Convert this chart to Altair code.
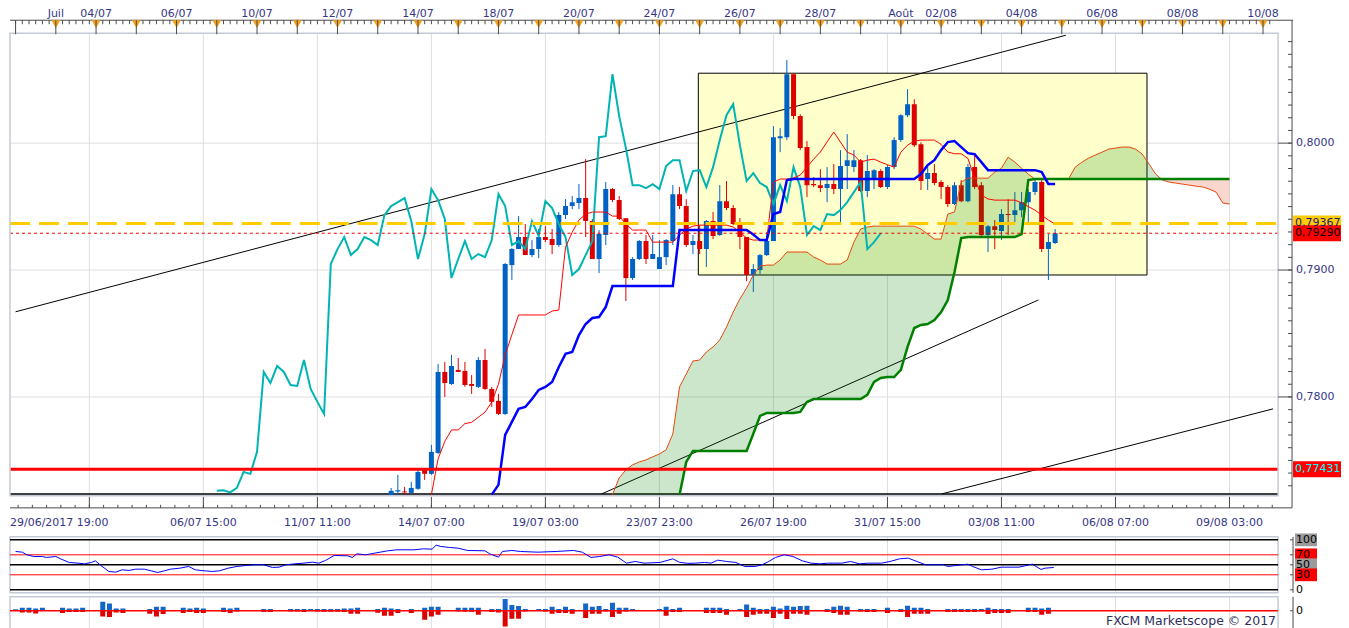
import altair as alt
import pandas as pd
import numpy as np

# ---------------- data ----------------
candle_start = 62
opens = [0.77228, 0.77255, 0.77255, 0.77244, 0.77276, 0.77425, 0.77394, 0.77559, 0.78197, 0.78102,
         0.78213, 0.78205, 0.78102, 0.78079, 0.78291, 0.78063, 0.77969, 0.77866, 0.79039, 0.79165,
         0.79260, 0.79118, 0.79165, 0.79260, 0.79244, 0.79197, 0.79433, 0.79504, 0.79528, 0.79567,
         0.79386, 0.79087, 0.79276, 0.79638, 0.79551, 0.79409, 0.78937, 0.79087, 0.79228, 0.79087,
         0.79008, 0.79102, 0.79228, 0.79598, 0.79504, 0.79197, 0.79228, 0.79165, 0.79386, 0.79276,
         0.79543, 0.79488, 0.79362, 0.79260, 0.78961, 0.79000, 0.79118, 0.79228, 0.80039, 0.80047,
         0.80543, 0.80213, 0.79969, 0.79677, 0.79669, 0.79646, 0.79677, 0.79638, 0.79819, 0.79811,
         0.79866, 0.79622, 0.79717, 0.79780, 0.79654, 0.79811, 0.80024, 0.80220, 0.80307, 0.79992,
         0.79717, 0.79764, 0.79693, 0.79654, 0.79520, 0.79669, 0.79543, 0.79811, 0.79669, 0.79276,
         0.79346, 0.79307, 0.79441, 0.79433, 0.79472, 0.79535, 0.79614, 0.79693, 0.79165, 0.79213]
highs = [0.77283, 0.77386, 0.77291, 0.77331, 0.77441, 0.77433, 0.77622, 0.78260, 0.78276, 0.78331,
         0.78307, 0.78276, 0.78173, 0.78315, 0.78378, 0.78079, 0.78024, 0.79055, 0.79173, 0.79425,
         0.79362, 0.79236, 0.79323, 0.79346, 0.79323, 0.79457, 0.79559, 0.79583, 0.79677, 0.79874,
         0.79402, 0.79315, 0.79693, 0.79646, 0.79583, 0.79409, 0.79102, 0.79236, 0.79276, 0.79276,
         0.79236, 0.79244, 0.79669, 0.79654, 0.79559, 0.79276, 0.79354, 0.79394, 0.79457, 0.79669,
         0.79701, 0.79512, 0.79409, 0.79260, 0.79047, 0.79126, 0.79299, 0.80134, 0.80118, 0.80654,
         0.80551, 0.80228, 0.80016, 0.79732, 0.79795, 0.79811, 0.79835, 0.79945, 0.80071, 0.79945,
         0.79874, 0.79906, 0.79795, 0.79795, 0.79827, 0.80047, 0.80228, 0.80425, 0.80346, 0.80008,
         0.79835, 0.79835, 0.79709, 0.79669, 0.79693, 0.79709, 0.79835, 0.79906, 0.79693, 0.79354,
         0.79394, 0.79480, 0.79559, 0.79614, 0.79614, 0.79638, 0.79717, 0.79709, 0.79283, 0.79323]
lows = [0.77228, 0.77228, 0.77228, 0.77236, 0.77268, 0.77346, 0.77386, 0.77551, 0.78000, 0.78094,
        0.78197, 0.78079, 0.78024, 0.78071, 0.78055, 0.77921, 0.77858, 0.77858, 0.78921, 0.79165,
        0.79118, 0.79102, 0.79094, 0.79220, 0.79126, 0.79181, 0.79402, 0.79480, 0.79480, 0.79260,
        0.79087, 0.78976, 0.79197, 0.79535, 0.79394, 0.78756, 0.78921, 0.79079, 0.79047, 0.79087,
        0.79008, 0.79039, 0.79197, 0.79480, 0.79181, 0.79126, 0.79126, 0.79024, 0.79244, 0.79268,
        0.79472, 0.79354, 0.79165, 0.78913, 0.78827, 0.78969, 0.79110, 0.79228, 0.79929, 0.80024,
        0.80189, 0.79945, 0.79575, 0.79654, 0.79614, 0.79535, 0.79598, 0.79378, 0.79638, 0.79772,
        0.79614, 0.79575, 0.79638, 0.79646, 0.79638, 0.79795, 0.80008, 0.80205, 0.79969, 0.79630,
        0.79630, 0.79669, 0.79559, 0.79496, 0.79512, 0.79535, 0.79535, 0.79638, 0.79268, 0.79142,
        0.79165, 0.79236, 0.79276, 0.79378, 0.79417, 0.79354, 0.79591, 0.79142, 0.78921, 0.79205]
closes = [0.77260, 0.77265, 0.77248, 0.77283, 0.77409, 0.77394, 0.77567, 0.78197, 0.78110, 0.78244,
          0.78197, 0.78094, 0.78087, 0.78291, 0.78063, 0.77961, 0.77866, 0.79047, 0.79165, 0.79260,
          0.79118, 0.79165, 0.79260, 0.79236, 0.79197, 0.79433, 0.79504, 0.79535, 0.79567, 0.79386,
          0.79087, 0.79283, 0.79638, 0.79551, 0.79402, 0.78937, 0.79087, 0.79228, 0.79087, 0.79126,
          0.79102, 0.79236, 0.79598, 0.79504, 0.79197, 0.79228, 0.79165, 0.79386, 0.79268, 0.79543,
          0.79488, 0.79362, 0.79260, 0.78961, 0.79008, 0.79118, 0.79228, 0.80047, 0.80055, 0.80543,
          0.80213, 0.79961, 0.79669, 0.79669, 0.79646, 0.79677, 0.79638, 0.79819, 0.79866, 0.79866,
          0.79622, 0.79780, 0.79787, 0.79654, 0.79811, 0.80024, 0.80220, 0.80307, 0.79984, 0.79701,
          0.79764, 0.79685, 0.79654, 0.79520, 0.79669, 0.79543, 0.79811, 0.79654, 0.79276, 0.79346,
          0.79315, 0.79441, 0.79433, 0.79472, 0.79535, 0.79614, 0.79693, 0.79165, 0.79220, 0.79290]

tenkan_start = 68
tenkan = [0.7723, 0.77512, 0.7765, 0.7774, 0.7774, 0.7779, 0.7780, 0.7784, 0.7788, 0.7796,
          0.7810, 0.7833, 0.7849, 0.78646, 0.78646, 0.78646, 0.78646, 0.78646, 0.78677, 0.78685,
          0.7918, 0.79299, 0.79394, 0.79441, 0.79457, 0.79457, 0.79457, 0.79425, 0.79425, 0.79362,
          0.79315, 0.79315, 0.79315, 0.7922, 0.7922, 0.7922, 0.7922, 0.79276, 0.79323, 0.79346,
          0.79354, 0.79354, 0.79354, 0.79354, 0.79354, 0.79339, 0.79299, 0.79252, 0.79236, 0.79236,
          0.79236, 0.79693, 0.79717, 0.79717, 0.79725, 0.79748, 0.79811, 0.79874, 0.7993, 0.8001,
          0.80087, 0.80008, 0.79929, 0.79906, 0.7985, 0.79866, 0.79874, 0.7985, 0.7983, 0.79811,
          0.79929, 0.79984, 0.80016, 0.80024, 0.80024, 0.80024, 0.7999, 0.7993, 0.79916, 0.79916,
          0.7988, 0.7972, 0.79591, 0.7956, 0.79551, 0.79551, 0.79551, 0.79551, 0.7953, 0.795,
          0.79472, 0.79433, 0.79394, 0.79362]

kijun_start = 77
kijun = [0.7723, 0.77307, 0.77701, 0.77803, 0.77906, 0.77921, 0.77984, 0.78055, 0.78079, 0.78118,
         0.78236, 0.78339, 0.78354, 0.78488, 0.78575, 0.78622, 0.7863, 0.78709, 0.78874, 0.78874,
         0.78874, 0.78874, 0.78874, 0.78874, 0.78874, 0.78874, 0.78874, 0.78874, 0.79315, 0.79315,
         0.79315, 0.79315, 0.79315, 0.79315, 0.79315, 0.79315, 0.79315, 0.79315, 0.79315, 0.7928,
         0.79236, 0.79236, 0.79441, 0.79457, 0.79709, 0.79717, 0.79717, 0.79717, 0.79717, 0.79717,
         0.79717, 0.79717, 0.79717, 0.79717, 0.79717, 0.79717, 0.79717, 0.79717, 0.79717, 0.79717,
         0.79717, 0.79717, 0.79717, 0.79717, 0.79756, 0.79827, 0.79866, 0.79945, 0.80008, 0.80016,
         0.79969, 0.79921, 0.79913, 0.7985, 0.79787, 0.79787, 0.79787, 0.79787, 0.79787, 0.79787,
         0.79787, 0.79787, 0.79772, 0.79677, 0.79677]

senkou_a_start = 95
senkou_a = [0.7723, 0.77362, 0.77425, 0.77465, 0.77488, 0.77504, 0.77528, 0.77551, 0.77583, 0.77709,
            0.78079, 0.78181, 0.78283, 0.78291, 0.78354, 0.78394, 0.78449, 0.78551, 0.78669, 0.78772,
            0.78858, 0.78961, 0.79031, 0.79039, 0.79039, 0.79079, 0.79142, 0.79142, 0.79142, 0.79142,
            0.79102, 0.79079, 0.79047, 0.79047, 0.79047, 0.79079, 0.7922, 0.79323, 0.79339, 0.79346,
            0.79346, 0.79346, 0.79346, 0.79346, 0.79346, 0.79346, 0.79323, 0.79283, 0.79244, 0.79244,
            0.79441, 0.79457, 0.79693, 0.79724, 0.79724, 0.79724, 0.79724, 0.79772, 0.79803, 0.7989,
            0.7985, 0.79803, 0.79756, 0.79717, 0.79717, 0.79717, 0.79717, 0.79717, 0.79717, 0.79811,
            0.7985, 0.79882, 0.79906, 0.79929, 0.79953, 0.79961, 0.79969, 0.79969, 0.79953, 0.79913,
            0.79835, 0.79756, 0.79709, 0.79693, 0.79685, 0.79677, 0.79669, 0.79661, 0.79654, 0.79638,
            0.79614, 0.79528, 0.7952]

senkou_b_start = 105
senkou_b = [0.7723, 0.77488, 0.77575, 0.77575, 0.77575, 0.77575, 0.77575, 0.77575, 0.77575, 0.77575,
            0.77575, 0.7771, 0.7785, 0.77874, 0.77874, 0.77874, 0.77874, 0.77874, 0.77882, 0.77961,
            0.77984, 0.77984, 0.77984, 0.77984, 0.77984, 0.77984, 0.77984, 0.77984, 0.78016, 0.78118,
            0.7815, 0.78157, 0.78157, 0.78213, 0.78394, 0.78543, 0.78567, 0.78575, 0.78606, 0.78669,
            0.78764, 0.78984, 0.79252, 0.7926, 0.7926, 0.7926, 0.7926, 0.7926, 0.7926, 0.7926,
            0.7926, 0.79283, 0.79709, 0.79717, 0.79717, 0.79717, 0.79717, 0.79717, 0.79717, 0.79717,
            0.79717, 0.79717, 0.79717, 0.79717, 0.79717, 0.79717, 0.79717, 0.79717, 0.79717, 0.79717,
            0.79717, 0.79717, 0.79717, 0.79717, 0.79717, 0.79717, 0.79717, 0.79717, 0.79717, 0.79717,
            0.79717, 0.79717, 0.79717]
chikou_shift = 26

rsi_bars = [6.0, 7.0, 7.7, 8.7, 10.0, 10.6, 12.0, 12.7, 14.0, 15.3,
            16.3, 17.3, 17.9, 18.6, 19.9, 20.9, 21.9, 22.9, 23.9, 25.2,
            26.2, 27.2, 28.2, 29.1, 30.5, 31.8, 32.8, 34.1, 35.4, 36.4,
            37.7, 39.0, 40.4, 41.7, 43.0, 44.3, 45.3, 46.3, 47.6, 48.9,
            50.3, 51.2, 52.2, 53.5, 55.5, 56.2, 56.9, 58.2, 59.5, 61.5,
            62.8, 65.4, 66.8, 68.1, 68.7, 69.4, 70.7, 72.0, 73.4, 76.0,
            76.7, 78.0, 78.6, 80.0, 81.3, 83.9, 86.6, 89.2, 90.5, 91.8,
            93.1, 94.5, 95.8, 97.1, 98.4, 99.7, 102.1, 104.0, 105.0, 106.2,
            107.4, 108.7, 109.7, 110.7, 112.0, 113.4, 114.7, 116.3, 117.3, 118.3,
            119.3, 120.6, 121.9, 123.3, 124.6, 125.9, 127.2, 129.2, 130.5, 131.8,
            133.1, 135.1, 136.4, 137.8, 139.1, 140.4, 141.7, 144.4, 145.0, 146.3,
            148.0, 148.7, 150.0, 151.6, 153.0, 155.6, 157.6, 158.9, 159.5, 160.8]
rsi_vals = [76.7, 75.3, 70, 66.7, 66.7, 64.7, 66.7, 62, 54.7, 53.3,
            52, 54.7, 58, 50, 36.7, 35.3, 40, 38.7, 41.3, 41.3,
            38, 34.7, 38, 41.3, 43.3, 46.7, 40, 38, 36.7, 38,
            43.3, 46.7, 48.7, 50, 50, 44.7, 45.3, 50, 52, 53.3,
            55.3, 53.3, 58.7, 68.7, 68, 64.7, 72, 70, 73.3, 78,
            80, 80, 82, 81.3, 89.3, 86.7, 84.7, 83.3, 78.7, 78,
            72, 65.3, 76.7, 78.7, 76.7, 75.3, 76.7, 78.7, 75.3, 64.7,
            66.7, 70, 65.3, 53.3, 56.7, 53.3, 54.7, 62, 55, 53,
            53.3, 54.7, 53.3, 59.3, 56.7, 54.7, 46.7, 46.7, 50, 56.7,
            64.7, 70, 66.7, 58, 53.3, 52, 53.3, 53.3, 56.7, 52,
            53.3, 53.3, 56.7, 62, 63.3, 56.7, 50, 50, 46.7, 48.7,
            51.3, 46.7, 40, 41.3, 45.3, 45.3, 51.3, 40.7, 43.3, 44.7]

hist_start = 6
hist_up = [1.5, 3, 3, 2.3, 3, 0.7, 0.7, 3, 2.3, 2.3,
           3, 0.7, 0.7, 9, 7.3, 2.3, 2.3, 0.7, 0.7, 0.7,
           1.7, 4, 4, 0.7, 0.7, 3, 2.3, 3, 2.3, 0.7,
           0.7, 3, 2.3, 3, 0.7, 0.7, 0.7, 1.7, 1.7, 0.7,
           0.7, 1.7, 1.7, 1.7, 1.7, 1.7, 1.7, 1.7, 1.7, 2.3,
           2.3, 3, 0.7, 0.7, 1.7, 3, 2.3, 1.7, 0.7, 1.7,
           0.7, 3, 4, 4, 0.7, 0.7, 3, 3, 3, 3,
           0.7, 1.7, 1.7, 11.7, 5.7, 4.7, 1.7, 0.7, 1.7, 1.7,
           4, 1.7, 4, 1.7, 0.7, 7.3, 4, 4.7, 1.7, 8,
           3, 3, 1.7, 0.7, 0.7, 0.7, 1.7, 4, 1.7, 3,
           0.7, 0.7, 0.7, 3, 3, 3, 1.7, 0.7, 1.7, 6.3,
           3, 1.7, 1.7, 4, 2.3, 5, 4, 4.7, 5, 0.7,
           0.7, 1.7, 4, 5, 4, 0.7, 1.7, 1.7, 1.7, 0.7,
           3, 0.7, 1.7, 5, 3, 3, 1.7, 0.7, 0.7, 1.7,
           1.7, 1.7, 1.7, 1.7, 1.7, 3, 1.7, 1.7, 1.7, 0.7,
           0.7, 3, 3, 2.3, 3]
hist_dn = [0, 1.7, 1.7, 2.7, 0, 0, 0, 2.3, 1.3, 1.3,
           1.3, 0, 0, 5.7, 6.3, 1.7, 2.3, 0, 0, 0,
           3, 5.7, 3.3, 0, 0, 2.3, 1.3, 2.3, 2.3, 0,
           0, 1.3, 2.3, 0.7, 0, 0, 0, 1.3, 1.3, 0,
           0, 0.7, 0.7, 1.3, 0, 0.7, 1, 1, 1, 1.3,
           3, 3, 0, 0, 2, 5, 5, 2.3, 0, 2.3,
           0, 9, 5.7, 4, 0, 0, 0.7, 1, 1, 4,
           0, 1.3, 1.7, 15.7, 8, 8, 0.7, 0, 0, 0.7,
           3, 2.3, 2.3, 3, 0, 7.3, 3, 3, 0.7, 6.3,
           3, 0.7, 0, 0, 0, 0, 0, 5, 1.3, 1.3,
           0, 0, 0, 2.3, 2.3, 2.3, 4, 0, 0, 6.3,
           4, 3, 3, 7.3, 3, 8.3, 3, 3, 4, 0,
           0, 1.3, 2.3, 4, 4, 0, 0.7, 1.3, 1.3, 0,
           2.3, 0, 1.3, 6.3, 3, 3, 3, 0, 0, 1.3,
           1.3, 1.3, 1.3, 1.3, 0.7, 3.3, 2.3, 2.3, 2.3, 0,
           0, 1.3, 1.3, 4, 3]

# drawing objects on the chart
box_bars = [107.8, 174.7]
box_prices = [0.78961, 0.80551]
trend_b1 = [6.0, 144.1, 93.4]
trend_b2 = [162.6, 193.5, 158.5]
trend_p1 = [0.78671, 0.77236, 0.77236]
trend_p2 = [0.80850, 0.77906, 0.78764]
floor_price = 0.77236
level_prices = [0.79367, 0.79290, 0.77431]
level_labels = ["0,79367", "0,79290", "0,77431"]

price_major = [0.78, 0.79, 0.80]
price_major_labels = ["0,7800", "0,7900", "0,8000"]

grid_bars = [17, 34, 51, 68, 85, 102, 119, 136, 153, 170, 187]
bottom_label_bars = [34, 51, 68, 85, 102, 119, 136, 153, 170, 187]
bottom_labels = ["06/07 15:00", "11/07 11:00", "14/07 07:00", "19/07 03:00", "23/07 23:00",
                 "26/07 19:00", "31/07 15:00", "03/08 11:00", "06/08 07:00", "09/08 03:00"]
first_bottom_label = "29/06/2017 19:00"
top_label_bars = [12, 18, 30, 42, 54, 66, 78, 90, 102, 114, 126, 138, 144, 156, 168, 180, 192]
top_labels = ["Juil", "04/07", "06/07", "10/07", "12/07", "14/07", "18/07", "20/07", "24/07",
              "26/07", "28/07", "Août", "02/08", "04/08", "06/08", "08/08", "10/08"]
rsi_levels = [100, 70, 50, 30, 0]
rsi_level_labels = ["100", "70", "50", "30", "0"]
rsi_level_bg = ["#9a9a9a", "#ff0000", "#9a9a9a", "#ff0000", "#ffffff"]

# ---------------- layout ----------------
W = 1269
H = 596
MAIN_H = 463
PX_BAR = 6.765
XMIN = 40 / PX_BAR
XMAX = XMIN + W / PX_BAR
PMAX = 0.79 + 237 / 12700
PMIN = 0.79 - 226 / 12700
RSI_Y0, RSI_Y1 = 504, 560
HIST_Y0, HIST_Y1 = 564, 596

FONT = "DejaVu Sans"
LBL = "#363689"
AXC = "#4a4a4a"
GRID = "#dedede"
FRAME = "#c3cad6"
UP = "#0062c4"
DOWN = "#dd0000"

XS = alt.Scale(domain=[XMIN, XMAX], nice=False, zero=False)
PS = alt.Scale(domain=[PMIN, PMAX], range=[MAIN_H, 0], nice=False, zero=False, clamp=True)
RS = alt.Scale(domain=[-6, 106], range=[RSI_Y1, RSI_Y0], nice=False, zero=False)
HS = alt.Scale(domain=[-18, 14], range=[HIST_Y1, HIST_Y0], nice=False, zero=False)


def xq(f):
    return alt.X(f"{f}:Q", scale=XS, axis=None)


def pq(f):
    return alt.Y(f"{f}:Q", scale=PS, axis=None)


one = pd.DataFrame({"k": [0]})


def px_rule(x1, x2, y1, y2, **kw):
    return alt.Chart(one).mark_rule(**kw).encode(
        x=alt.value(x1), x2=alt.value(x2), y=alt.value(y1), y2=alt.value(y2))


def px_frame(y1, y2):
    return alt.Chart(one).mark_rect(fillOpacity=0, stroke=FRAME, strokeWidth=1.5).encode(
        x=alt.value(0), x2=alt.value(W), y=alt.value(y1), y2=alt.value(y2))


# ---------------- dataframes ----------------
cbars = list(range(candle_start, candle_start + len(opens)))
candles = pd.DataFrame({"bar": cbars, "o": opens, "h": highs, "l": lows, "c": closes})
candles["dir"] = np.where(candles["c"] >= candles["o"], "up", "down")

tenkan_df = pd.DataFrame({"bar": range(tenkan_start, tenkan_start + len(tenkan)), "v": tenkan})
kijun_df = pd.DataFrame({"bar": range(kijun_start, kijun_start + len(kijun)), "v": kijun})
sa_df = pd.DataFrame({"bar": range(senkou_a_start, senkou_a_start + len(senkou_a)), "a": senkou_a})
sb_df = pd.DataFrame({"bar": range(senkou_b_start, senkou_b_start + len(senkou_b)), "b": senkou_b})
chikou_df = pd.DataFrame({"bar": [b - chikou_shift for b in cbars], "v": closes})

cloud = sa_df.merge(sb_df, on="bar", how="left")
cloud["bf"] = cloud["b"].fillna(PMIN - 0.001)
cloud["lo"] = cloud[["a", "bf"]].min(axis=1)

rsi_df = pd.DataFrame({"bar": rsi_bars, "v": rsi_vals})
hbars = list(range(hist_start, hist_start + len(hist_up)))
hist_df = pd.DataFrame({"bar": hbars, "up": hist_up, "dn": [-d for d in hist_dn], "z": 0.0})

trend_df = pd.DataFrame({"b1": trend_b1, "b2": trend_b2, "p1": trend_p1, "p2": trend_p2})
box_df = pd.DataFrame({"b1": [box_bars[0]], "b2": [box_bars[1]], "p1": [box_prices[0]], "p2": [box_prices[1]]})
grid_df = pd.DataFrame({"bar": grid_bars})
hgrid_df = pd.DataFrame({"p": price_major, "lbl": price_major_labels})
minor_p = pd.DataFrame({"p": np.round(np.arange(0.773, 0.8085, 0.001), 3)})
lv = pd.DataFrame({"p": level_prices, "lbl": level_labels,
                   "bg": ["#ffcc00", "#ff0000", "#ff0000"],
                   "fg": ["#1a1a80", "#000000", "#00ffff"]})

top_lbl_df = pd.DataFrame({"bar": top_label_bars, "t": top_labels})
day_df = pd.DataFrame({"bar": list(range(6, 194, 6))})
tri_df = pd.DataFrame({"bar": list(range(12, 194, 6))})
bar_tick_df = pd.DataFrame({"bar": list(range(6, 194))})
bot_tick_df = pd.DataFrame({"bar": [17 + 17 * k / 8 for k in range(-5, 84)]})
bot_lbl_df = pd.DataFrame({"bar": bottom_label_bars, "t": bottom_labels})

rsi_lv_df = pd.DataFrame({"v": rsi_levels, "t": rsi_level_labels, "bg": rsi_level_bg})

BOX_PATH = "M-1,-0.3333L1,-0.3333L1,0.3333L-1,0.3333Z"
RBOX_PATH = "M-1,-0.58L1,-0.58L1,0.58L-1,0.58Z"

L = []

# gridlines
for (y1, y2) in [(0, MAIN_H), (RSI_Y0, RSI_Y1), (HIST_Y0, HIST_Y1)]:
    L.append(alt.Chart(grid_df).mark_rule(color=GRID, strokeWidth=1).encode(
        x=xq("bar"), y=alt.value(y1), y2=alt.value(y2)))
L.append(alt.Chart(hgrid_df).mark_rule(color=GRID, strokeWidth=1).encode(
    y=pq("p"), x=alt.value(0), x2=alt.value(W)))

# yellow rectangle drawing
L.append(alt.Chart(box_df).mark_rect(fill="#ffffcc", stroke="#000000", strokeWidth=1).encode(
    x=xq("b1"), x2=alt.X2("b2"), y=pq("p1"), y2=alt.Y2("p2")))

# trend lines
L.append(alt.Chart(trend_df).mark_rule(color="#000000", strokeWidth=1, clip=True).encode(
    x=xq("b1"), x2=alt.X2("b2"), y=pq("p1"), y2=alt.Y2("p2")))
L.append(alt.Chart(pd.DataFrame({"p": [floor_price]})).mark_rule(color="#000000", strokeWidth=1.5).encode(
    y=pq("p"), x=alt.value(0), x2=alt.value(W)))

# candles
ccol = alt.Color("dir:N", scale=alt.Scale(domain=["up", "down"], range=[UP, DOWN]), legend=None)
L.append(alt.Chart(candles).mark_rule(strokeWidth=1, clip=True).encode(
    x=xq("bar"), y=pq("l"), y2=alt.Y2("h"), color=ccol))
L.append(alt.Chart(candles).mark_bar(size=5, clip=True).encode(
    x=xq("bar"), y=pq("o"), y2=alt.Y2("c"), color=ccol))

# ichimoku cloud
L.append(alt.Chart(cloud).mark_area(color="#008000", opacity=0.2, clip=True).encode(
    x=xq("bar"), y=pq("a"), y2=alt.Y2("lo")))
L.append(alt.Chart(cloud).mark_area(color="#e8603c", opacity=0.25, clip=True).encode(
    x=xq("bar"), y=pq("bf"), y2=alt.Y2("lo")))
L.append(alt.Chart(sa_df).mark_line(color="#e8460c", strokeWidth=1, clip=True).encode(
    x=xq("bar"), y=pq("a")))
L.append(alt.Chart(sb_df).mark_line(color="#008000", strokeWidth=2.5, clip=True).encode(
    x=xq("bar"), y=pq("b")))

# chikou, tenkan, kijun
L.append(alt.Chart(chikou_df).mark_line(color="#00b4b4", strokeWidth=2, clip=True).encode(
    x=xq("bar"), y=pq("v")))
L.append(alt.Chart(tenkan_df).mark_line(color="#ff0000", strokeWidth=1, clip=True).encode(
    x=xq("bar"), y=pq("v")))
L.append(alt.Chart(kijun_df).mark_line(color="#0000ff", strokeWidth=2.5, clip=True).encode(
    x=xq("bar"), y=pq("v")))

# horizontal levels
L.append(alt.Chart(lv.iloc[[0]]).mark_rule(color="#ffcc00", strokeWidth=3, strokeDash=[20, 9]).encode(
    y=pq("p"), x=alt.value(0), x2=alt.value(W)))
L.append(alt.Chart(lv.iloc[[1]]).mark_rule(color="#ee0000", strokeWidth=1, strokeDash=[3, 3]).encode(
    y=pq("p"), x=alt.value(0), x2=alt.value(W)))
L.append(alt.Chart(lv.iloc[[2]]).mark_rule(color="#ff0000", strokeWidth=3).encode(
    y=pq("p"), x=alt.value(0), x2=alt.value(W)))

# panel frames
L.append(px_frame(0, MAIN_H))
L.append(px_frame(RSI_Y0, RSI_Y1))
L.append(px_frame(HIST_Y0, HIST_Y1))

# top time axis
L.append(px_rule(0, W + 15, -13, -13, color=AXC, strokeWidth=1))
L.append(alt.Chart(bar_tick_df).mark_rule(color=AXC, strokeWidth=1).encode(
    x=xq("bar"), y=alt.value(-13), y2=alt.value(-9)))
L.append(alt.Chart(tri_df).mark_point(shape="triangle-down", filled=True, size=80,
                                      color="#f5a11c", opacity=1, strokeWidth=0).encode(
    x=xq("bar"), y=alt.value(-9)))
L.append(alt.Chart(day_df).mark_rule(color=AXC, strokeWidth=1).encode(
    x=xq("bar"), y=alt.value(-13), y2=alt.value(1)))
L.append(alt.Chart(top_lbl_df).mark_text(font=FONT, fontSize=11, color=LBL, baseline="alphabetic",
                                         align="center").encode(
    x=xq("bar"), y=alt.value(-16), text="t:N"))

# right price axis
L.append(px_rule(W + 14, W + 14, -13, 475, color=AXC, strokeWidth=1))
L.append(alt.Chart(minor_p).mark_rule(color=AXC, strokeWidth=1).encode(
    y=pq("p"), x=alt.value(W + 10), x2=alt.value(W + 14)))
L.append(alt.Chart(hgrid_df).mark_rule(color=AXC, strokeWidth=1).encode(
    y=pq("p"), x=alt.value(W), x2=alt.value(W + 14)))
L.append(alt.Chart(hgrid_df).mark_text(font=FONT, fontSize=11, color=LBL, align="left",
                                       baseline="middle").encode(
    y=pq("p"), x=alt.value(W + 18), text="lbl:N"))
L.append(alt.Chart(lv).mark_point(shape=BOX_PATH, size=48 * 48, filled=True, opacity=1,
                                  strokeWidth=0).encode(
    y=pq("p"), x=alt.value(W + 39), color=alt.Color("bg:N", scale=None)))
L.append(alt.Chart(lv).mark_text(font=FONT, fontSize=11, align="left", baseline="middle").encode(
    y=pq("p"), x=alt.value(W + 17), text="lbl:N", color=alt.Color("fg:N", scale=None)))

# bottom time axis
L.append(px_rule(0, W + 14, 475, 475, color=AXC, strokeWidth=1))
L.append(alt.Chart(bot_tick_df).mark_rule(color=AXC, strokeWidth=1).encode(
    x=xq("bar"), y=alt.value(472), y2=alt.value(475)))
L.append(alt.Chart(grid_df).mark_rule(color=AXC, strokeWidth=1).encode(
    x=xq("bar"), y=alt.value(464), y2=alt.value(475)))
L.append(alt.Chart(bot_lbl_df).mark_text(font=FONT, fontSize=11, color=LBL, align="center",
                                         baseline="middle").encode(
    x=xq("bar"), y=alt.value(489.7), text="t:N"))
L.append(alt.Chart(one).mark_text(font=FONT, fontSize=11, color=LBL, align="left",
                                  baseline="middle", text=first_bottom_label).encode(
    x=alt.value(0), y=alt.value(489.7)))

# RSI panel
rsi_black = rsi_lv_df[rsi_lv_df["v"].isin([100, 50, 0])]
rsi_red = rsi_lv_df[rsi_lv_df["v"].isin([70, 30])]
L.append(alt.Chart(rsi_black).mark_rule(color="#000000", strokeWidth=1.5).encode(
    y=alt.Y("v:Q", scale=RS, axis=None), x=alt.value(0), x2=alt.value(W)))
L.append(alt.Chart(rsi_red).mark_rule(color="#ff0000", strokeWidth=1).encode(
    y=alt.Y("v:Q", scale=RS, axis=None), x=alt.value(0), x2=alt.value(W)))
L.append(alt.Chart(rsi_df).mark_line(color="#0000ff", strokeWidth=1, clip=True).encode(
    x=xq("bar"), y=alt.Y("v:Q", scale=RS, axis=None)))
L.append(px_rule(W + 15, W + 15, RSI_Y0, RSI_Y1, color=AXC, strokeWidth=1))
L.append(alt.Chart(rsi_lv_df).mark_rule(color=AXC, strokeWidth=1).encode(
    y=alt.Y("v:Q", scale=RS, axis=None), x=alt.value(W + 12), x2=alt.value(W + 15)))
L.append(alt.Chart(rsi_lv_df[rsi_lv_df["v"] != 0]).mark_point(
    shape=RBOX_PATH, size=22 * 22, filled=True, opacity=1, strokeWidth=0).encode(
    y=alt.Y("v:Q", scale=RS, axis=None), x=alt.value(W + 28),
    color=alt.Color("bg:N", scale=None)))
L.append(alt.Chart(rsi_lv_df).mark_text(font=FONT, fontSize=11, color="#000000", align="left",
                                        baseline="middle").encode(
    y=alt.Y("v:Q", scale=RS, axis=None), x=alt.value(W + 18), text="t:N"))

# histogram panel
L.append(alt.Chart(hist_df).mark_bar(size=5, color="#1466c8", clip=True).encode(
    x=xq("bar"), y=alt.Y("z:Q", scale=HS, axis=None), y2=alt.Y2("up")))
L.append(alt.Chart(hist_df).mark_bar(size=5, color="#dd0000", clip=True).encode(
    x=xq("bar"), y=alt.Y("z:Q", scale=HS, axis=None), y2=alt.Y2("dn")))
L.append(alt.Chart(pd.DataFrame({"z": [0.0]})).mark_rule(color="#ff0000", strokeWidth=1.5).encode(
    y=alt.Y("z:Q", scale=HS, axis=None), x=alt.value(0), x2=alt.value(W)))
L.append(px_rule(W + 15, W + 15, HIST_Y0, HIST_Y1, color=AXC, strokeWidth=1))
L.append(alt.Chart(pd.DataFrame({"z": [0.0], "t": ["0"]})).mark_rule(color=AXC, strokeWidth=1).encode(
    y=alt.Y("z:Q", scale=HS, axis=None), x=alt.value(W + 12), x2=alt.value(W + 15)))
L.append(alt.Chart(pd.DataFrame({"z": [0.0], "t": ["0"]})).mark_text(
    font=FONT, fontSize=11, color="#000000", align="left", baseline="middle").encode(
    y=alt.Y("z:Q", scale=HS, axis=None), x=alt.value(W + 18), text="t:N"))
L.append(alt.Chart(one).mark_text(font=FONT, fontSize=12.5, color="#2e2e5e", align="right",
                                  baseline="middle", text="FXCM Marketscope © 2017").encode(
    x=alt.value(W - 2), y=alt.value(588)))

chart = alt.layer(*L).resolve_scale(y="independent").properties(
    width=W, height=H, padding=0, background="white"
).configure_view(strokeWidth=0)

chart.save("out.html", embed_options={"renderer": "svg", "actions": False})
